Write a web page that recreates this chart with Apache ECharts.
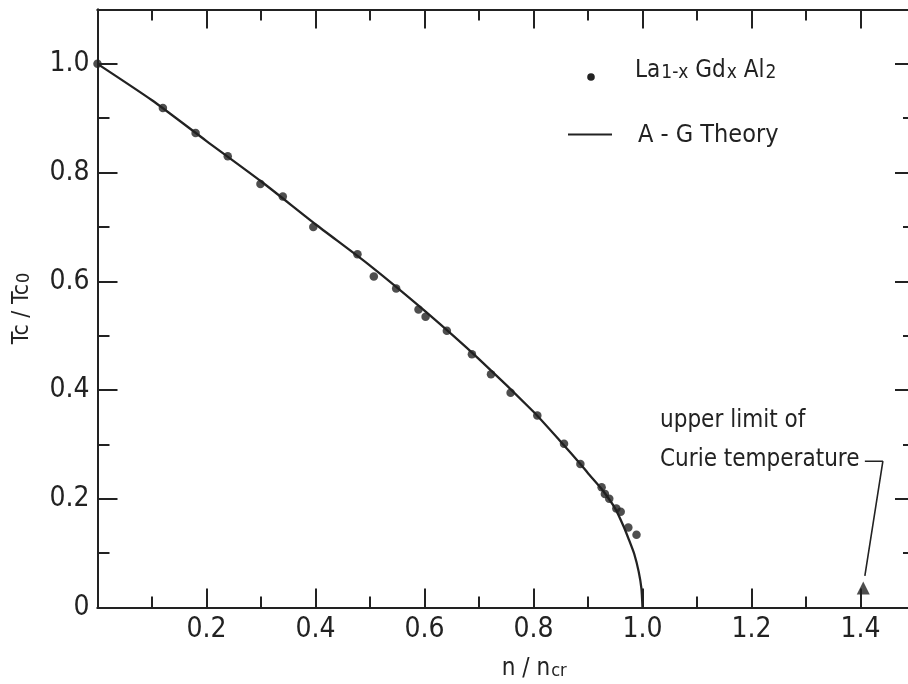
<!DOCTYPE html>
<html>
<head>
<meta charset="utf-8">
<title>Tc/Tc0 vs n/ncr</title>
<script src="https://cdn.jsdelivr.net/npm/echarts@6/dist/echarts.min.js"></script>
<style>
    html, body {margin: 0; padding: 0; background: #fff;}
    #main {width: 908px; height: 684px;}
</style>
</head>
<body>
<div id="main"></div>
<script>
var FONT = "'DejaVu Sans Condensed', 'Liberation Sans Narrow', sans-serif";
var INK = '#222';

// La(1-x)Gd(x)Al2 measured points
var measN = [0.0, 0.12, 0.18, 0.239, 0.299, 0.340, 0.396, 0.477, 0.507, 0.548, 0.589, 0.602, 0.641,
    0.687, 0.722, 0.758, 0.807, 0.856, 0.886, 0.925, 0.931, 0.939, 0.952, 0.960, 0.974, 0.989];
var measT = [1.0, 0.919, 0.873, 0.830, 0.779, 0.756, 0.700, 0.650, 0.609, 0.587, 0.548, 0.535, 0.509,
    0.466, 0.429, 0.395, 0.353, 0.301, 0.264, 0.221, 0.209, 0.200, 0.182, 0.176, 0.147, 0.134];

// A-G theory curve
var theoryN = [0, 0.1, 0.2, 0.3, 0.4, 0.5, 0.6, 0.7, 0.8, 0.85, 0.886, 0.9, 0.925, 0.95, 0.965, 0.975, 0.985, 0.993, 0.998, 1.0];
var theoryT = [1.0, 0.933, 0.858, 0.784, 0.705, 0.629, 0.546, 0.457, 0.36, 0.305, 0.264, 0.247, 0.218, 0.182, 0.150, 0.125, 0.098, 0.066, 0.035, 0.0];

// upper limit of Curie temperature + its pointer
var limitN = [1.405];
var limitT = [0.036];
var leaderN = [1.408, 1.441, 1.408];
var leaderT = [0.269, 0.269, 0.058];

var xTickLabels = ['0.2', '0.4', '0.6', '0.8', '1.0', '1.2', '1.4'];
var yTickLabels = ['0', '0.2', '0.4', '0.6', '0.8', '1.0'];

function pairs(a, b) {
    return a.map(function (v, i) {
        return [v, b[i]];
    });
}

function frameAxis(pos, max, step, len, extra) {
    var ax = {
        type: 'value',
        position: pos,
        min: 0,
        max: max,
        interval: step,
        axisLine: {show: true, onZero: false, lineStyle: {color: INK, width: 2}},
        axisTick: {show: true, inside: true, length: len, lineStyle: {color: INK, width: 2}},
        axisLabel: {show: false},
        splitLine: {show: false}
    };
    for (var k in extra) ax[k] = extra[k];
    return ax;
}

var myChart = echarts.init(document.getElementById('main'));

var option = {
    animation: false,
    backgroundColor: '#fff',
    grid: {left: 97.5, right: -7, top: 9.5, bottom: 76.5, outerBoundsMode: 'none'},
    xAxis: [
        frameAxis('bottom', 1.5, 0.1, 11),
        frameAxis('bottom', 1.5, 0.2, 19, {
            name: '{m|n / n}{s|cr}',
            nameLocation: 'middle',
            nameGap: 49,
            nameMoveOverlap: false,
            nameTextStyle: {
                color: INK,
                fontFamily: FONT,
                fontSize: 24,
                padding: [0, 0, 0, 56],
                rich: {
                    m: {fontFamily: FONT, fontSize: 24, color: INK, lineHeight: 24},
                    s: {fontFamily: FONT, fontSize: 18, color: INK, lineHeight: 18, verticalAlign: 'bottom', padding: [14, 0, 0, 1]}
                }
            },
            axisLabel: {
                show: true,
                margin: 8,
                color: INK,
                fontFamily: FONT,
                fontSize: 28,
                formatter: function (v) {
                    var s = v.toFixed(1);
                    return xTickLabels.indexOf(s) >= 0 ? s : '';
                }
            }
        }),
        frameAxis('top', 1.5, 0.1, 11),
        frameAxis('top', 1.5, 0.2, 19)
    ],
    yAxis: [
        frameAxis('left', 1.1, 0.1, 12),
        frameAxis('left', 1.1, 0.2, 20, {
            name: '{m|Tc / Tc}{s|0}',
            nameLocation: 'middle',
            nameGap: 64,
            nameMoveOverlap: false,
            nameTextStyle: {
                color: INK,
                fontFamily: FONT,
                fontSize: 23,
                rich: {
                    m: {fontFamily: FONT, fontSize: 23, color: INK, lineHeight: 23},
                    s: {fontFamily: FONT, fontSize: 18, color: INK, lineHeight: 18, verticalAlign: 'bottom', padding: [12, 0, 0, 1]}
                }
            },
            axisLabel: {
                show: true,
                margin: 8,
                color: INK,
                fontFamily: FONT,
                fontSize: 28,
                formatter: function (v) {
                    var s = v === 0 ? '0' : v.toFixed(1);
                    return yTickLabels.indexOf(s) >= 0 ? s : '';
                }
            }
        }),
        frameAxis('right', 1.1, 0.1, 12),
        frameAxis('right', 1.1, 0.2, 20)
    ],
    series: [
        {
            name: 'A - G Theory',
            type: 'line',
            data: pairs(theoryN, theoryT),
            showSymbol: false,
            smooth: 0.2,
            lineStyle: {color: INK, width: 2.3},
            silent: true,
            z: 3
        },
        {
            name: 'La1-x Gdx Al2',
            type: 'scatter',
            data: pairs(measN, measT),
            symbol: 'circle',
            symbolSize: 8.5,
            itemStyle: {color: INK},
            z: 4
        },
        {
            name: 'upper limit',
            type: 'scatter',
            data: pairs(limitN, limitT),
            symbol: 'triangle',
            symbolSize: 13,
            itemStyle: {color: INK},
            z: 4
        },
        {
            name: 'pointer',
            type: 'line',
            data: pairs(leaderN, leaderT),
            showSymbol: false,
            lineStyle: {color: INK, width: 1.6},
            silent: true,
            z: 3
        }
    ],
    graphic: [
        // legend
        {type: 'circle', shape: {cx: 591, cy: 77, r: 3.8}, style: {fill: INK}},
        {
            type: 'text', x: 635, y: 59,
            style: {
                text: '{m|La}{s|1-x} {m|Gd}{s|x} {m|Al}{s|2}',
                fill: INK,
                font: '24px ' + FONT,
                verticalAlign: 'top',
                rich: {
                    m: {fontFamily: FONT, fontSize: 24, fill: INK, lineHeight: 24},
                    s: {fontFamily: FONT, fontSize: 19, fill: INK, lineHeight: 19, verticalAlign: 'bottom', padding: [20, 0, 0, 1]}
                }
            }
        },
        {type: 'line', shape: {x1: 568, y1: 134.5, x2: 612, y2: 134.5}, style: {stroke: INK, lineWidth: 2}},
        {
            type: 'text', x: 638, y: 135,
            style: {text: 'A - G Theory', fill: INK, font: '25px ' + FONT, verticalAlign: 'middle'}
        },
        // annotation
        {
            type: 'text', x: 660, y: 420.5,
            style: {text: 'upper limit of', fill: INK, font: '24px ' + FONT, verticalAlign: 'middle'}
        },
        {
            type: 'text', x: 660, y: 459.5,
            style: {text: 'Curie temperature', fill: INK, font: '24px ' + FONT, verticalAlign: 'middle'}
        }
    ]
};

myChart.setOption(option);
</script>
</body>
</html>
